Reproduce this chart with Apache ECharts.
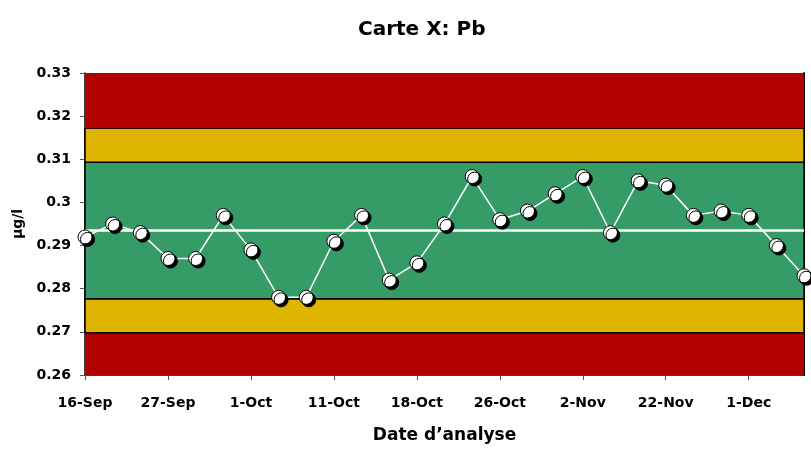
<!DOCTYPE html>
<html>
<head>
<meta charset="utf-8">
<script src="https://cdn.jsdelivr.net/npm/echarts@6/dist/echarts.min.js"></script>
<style>
  html, body { margin: 0; padding: 0; background: #fff; }
  #chart { width: 811px; height: 449px; }
</style>
</head>
<body>
<div id="chart"></div>
<script>
// analysis dates (only every third one is labelled on the original)
const dates = [
  '16-Sep', '', '', '27-Sep', '', '', '1-Oct', '', '', '11-Oct', '', '', '18-Oct', '', '',
  '26-Oct', '', '', '2-Nov', '', '', '22-Nov', '', '', '1-Dec', '', ''
]
const pbValues = [
  0.292, 0.295, 0.293, 0.287, 0.287, 0.297, 0.289, 0.278, 0.278, 0.291, 0.297, 0.282, 0.286, 0.295,
  0.306, 0.296, 0.298, 0.302, 0.306, 0.293, 0.305, 0.304, 0.297, 0.298, 0.297, 0.290, 0.283
]
const centerLine = 0.2935
const warnLimits = [0.2777, 0.3093]    // +/- 2s
const actionLimits = [0.2698, 0.3172]  // +/- 3s
const yTicks = [0.26, 0.27, 0.28, 0.29, 0.3, 0.31, 0.32, 0.33]

const red = '#b30000'
const gold = '#dfb400'
const green = '#359c68'
const font = 'DejaVu Sans, sans-serif'

const chart = echarts.init(document.getElementById('chart'))

const band = (lo, hi, color, border) => [
  { yAxis: lo, itemStyle: { color, borderColor: '#000', borderWidth: border } },
  { yAxis: hi }
]

chart.setOption({
  animation: false,
  title: {
    text: 'Carte X: Pb',
    left: 353, top: 15,
    textStyle: { fontFamily: font, fontSize: 20, fontWeight: 'bold', color: '#000' }
  },
  grid: { left: 85, right: 7, top: 73, bottom: 73 },
  xAxis: {
    type: 'category',
    data: dates,
    boundaryGap: false,
    name: 'Date d’analyse',
    nameLocation: 'middle',
    nameGap: 52,
    nameTextStyle: { fontFamily: font, fontSize: 17, fontWeight: 'bold', color: '#000' },
    axisLine: { lineStyle: { color: '#000', width: 1.5 } },
    axisTick: { interval: 2, length: 5, lineStyle: { color: '#555' } },
    axisLabel: {
      interval: 2, margin: 21,
      fontFamily: font, fontSize: 14, fontWeight: 'bold', color: '#000'
    },
    splitLine: { show: false }
  },
  yAxis: [{
    type: 'value',
    min: yTicks[0],
    max: yTicks[yTicks.length - 1],
    interval: 0.01,
    name: 'µg/l',
    nameLocation: 'middle',
    nameGap: 59,
    nameTextStyle: { fontFamily: font, fontSize: 14, fontWeight: 'bold', color: '#000' },
    axisLine: { show: true, lineStyle: { color: '#000', width: 1.5 } },
    axisTick: { show: true, length: 5, lineStyle: { color: '#555' } },
    axisLabel: {
      margin: 14,
      fontFamily: font, fontSize: 14, fontWeight: 'bold', color: '#000',
      formatter: v => String(+v.toFixed(2))
    },
    splitLine: { show: false }
  }, {
    type: 'value',
    position: 'right',
    min: yTicks[0],
    max: yTicks[yTicks.length - 1],
    axisLine: { show: true, lineStyle: { color: '#000', width: 2 } },
    axisTick: { show: false },
    axisLabel: { show: false },
    splitLine: { show: false }
  }],
  series: [{
    type: 'line',
    data: pbValues,
    z: 5,
    symbol: 'circle',
    symbolSize: 14,
    lineStyle: { color: '#fff', width: 1.5 },
    itemStyle: {
      color: '#fff', borderColor: '#000', borderWidth: 1,
      shadowColor: '#000', shadowOffsetX: 2.5, shadowOffsetY: 2.5, shadowBlur: 0
    },
    markArea: {
      silent: true,
      data: [
        band(yTicks[0], actionLimits[0], red, 0),
        band(actionLimits[0], warnLimits[0], gold, 1.5),
        band(warnLimits[0], warnLimits[1], green, 1.5),
        band(warnLimits[1], actionLimits[1], gold, 1.5),
        band(actionLimits[1], yTicks[yTicks.length - 1], red, 0)
      ]
    },
    markLine: {
      silent: true,
      symbol: 'none',
      precision: 4,
      label: { show: false },
      lineStyle: { color: '#fff', width: 2.5, type: 'solid' },
      data: [{ yAxis: centerLine }]
    }
  }]
})
</script>
</body>
</html>
